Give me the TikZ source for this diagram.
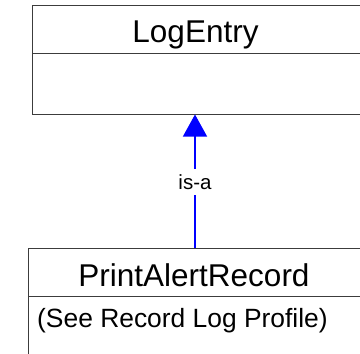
\documentclass[tikz,border=0pt]{standalone}
\usepackage{fontspec}
\setmainfont{Liberation Sans}
\usepackage{tikz}
\usetikzlibrary{positioning,arrows.meta}
\definecolor{myblue}{RGB}{0,0,255}
\definecolor{mygray}{RGB}{60,60,60}

\begin{document}
\begin{tikzpicture}[x=1pt,y=-1pt,
	classbox/.style={draw=mygray,line width=1pt,anchor=north west,inner sep=0pt},
	classname/.style={font=\fontsize{31.5}{36}\selectfont,anchor=base,inner sep=0pt},
	classnote/.style={font=\fontsize{26.4}{30}\selectfont,anchor=base west,inner sep=0pt},
	isaline/.style={draw=myblue,line width=1.3pt,-{Triangle[length=22pt,width=24pt]}},
	isalabel/.style={font=\fontsize{20.5}{24}\selectfont,fill=white,inner sep=0pt,minimum height=26pt,text height=15pt,text depth=0pt},
	]
	\useasboundingbox (0,0) rectangle (360,354);
	\clip (0,0) rectangle (360,354);
	
	% the class LogEntry
	\node[classbox,minimum width=335pt,minimum height=109pt] (logbox) at (32.5,5) {};
	\draw[mygray,line width=1pt] (32.5,53) -- (368,53);
	\node[classname] (logentry) at (195.5,42.7) {LogEntry};
	
	% the class PrintAlertRecord
	\node[classbox,minimum width=340pt,minimum height=120pt] (printbox) at (28,248) {};
	\draw[mygray,line width=1pt] (28,296) -- (368,296);
	\node[classname] (printalert) at (194,286) {PrintAlertRecord};
	\node[classnote] (printnote) at (37,327.7) {(See Record Log Profile)};
	
	% is-a edge
	\coordinate (isafrom) at (195,248);
	\coordinate (isato) at (195,114.5);
	\draw[isaline] (isafrom) -- (isato);
	\node[isalabel] (isa) at (195,182) {is-a};
	
\end{tikzpicture}
\end{document}
